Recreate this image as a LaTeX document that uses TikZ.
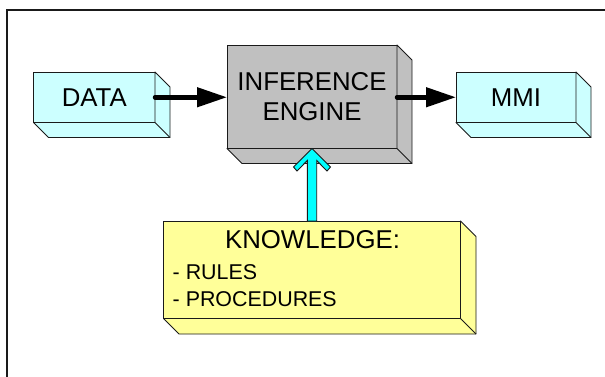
\documentclass[tikz,border=0pt]{standalone}
\usepackage{fontspec}
\setmainfont{Liberation Sans}
\usetikzlibrary{arrows.meta,calc}

\definecolor{boxcyan}{HTML}{CCFFFF}
\definecolor{boxgray}{HTML}{C0C0C0}
\definecolor{boxyellow}{HTML}{FFFF99}
\definecolor{arrowcyan}{HTML}{00FFFF}
\definecolor{edge}{HTML}{1A1A1A}

% side and bottom faces of an extruded block: node, fill colour, depth
\newcommand\drawdepthfaces[3]{%
  \filldraw[face, fill=#2] (#1.north east) -- ++(#3,#3)
    -- ([shift={(#3,#3)}]#1.south east) -- ([shift={(#3,#3)}]#1.south west)
    -- (#1.south west) -- (#1.south east) -- cycle;
  \draw[face] (#1.south east) -- ++(#3,#3);}

\begin{document}
\begin{tikzpicture}[x=1pt, y=-1pt,
  block/.style={draw=edge, line width=0.9pt, rectangle, inner sep=0pt,
    outer sep=0pt, align=center, font=\fontsize{25.8}{30}\selectfont},
  face/.style={draw=edge, line width=0.9pt, line join=round},
  flow/.style={line width=4.5pt, line cap=round,
    -{Triangle[length=30pt,width=19pt]}},
  feed/.style={draw=edge, line width=0.9pt, fill=arrowcyan, line join=miter},
  txt/.style={inner sep=0pt, outer sep=0pt}]

\useasboundingbox (0,0) rectangle (605,376);
\clip (0,0) rectangle (605,376);
\fill[white] (0,0) rectangle (605,376);

% outer frame (runs off the right and bottom edges)
\draw[line width=1.6pt, edge] (7,385) -- (7,10) -- (615,10);

% blocks
\node[block, fill=boxcyan, minimum width=121.5pt, minimum height=50.5pt]
  (data) at (94.25,97.25) {DATA};
\node[block, fill=boxgray, minimum width=170pt, minimum height=103.5pt]
  (eng) at (312,96.75) {INFERENCE\\ENGINE};
\node[block, fill=boxcyan, minimum width=120pt, minimum height=50.5pt]
  (mmi) at (516,97.25) {MMI};
\node[block, fill=boxyellow, minimum width=297pt, minimum height=97.5pt]
  (kn) at (312,269.75) {};

\drawdepthfaces{data}{boxcyan}{15}
\drawdepthfaces{eng}{boxgray}{15}
\drawdepthfaces{mmi}{boxcyan}{15}
\drawdepthfaces{kn}{boxyellow}{15.5}

% knowledge block contents
\node[txt, anchor=base, font=\fontsize{25.8}{30}\selectfont]
  (kntitle) at ($(kn.north)+(0.5,27.3)$) {KNOWLEDGE:};
\node[txt, anchor=base west, font=\fontsize{21.4}{26}\selectfont]
  (rules) at ($(kn.north west)+(9.2,58.5)$) {- RULES};
\node[txt, anchor=base west, font=\fontsize{21.4}{26}\selectfont]
  (procs) at ($(kn.north west)+(9.2,85.7)$) {- PROCEDURES};

% data flow
\draw[flow] (data.east) -- (data.east -| eng.west);
\draw[flow] (eng.east |- mmi.west) -- (mmi.west);

% knowledge feeds the engine
\draw[feed] (eng.south) -- ++(18.5,18.5) -- ++(-3.5,4)
  -- ([shift={(4.7,12)}]eng.south) -- ([xshift=4.7pt]kn.north)
  -- ([xshift=-4.7pt]kn.north) -- ([shift={(-4.7,12)}]eng.south)
  -- ([shift={(-15,22.5)}]eng.south) -- ([shift={(-18.5,18.5)}]eng.south)
  -- cycle;
\end{tikzpicture}
\end{document}
